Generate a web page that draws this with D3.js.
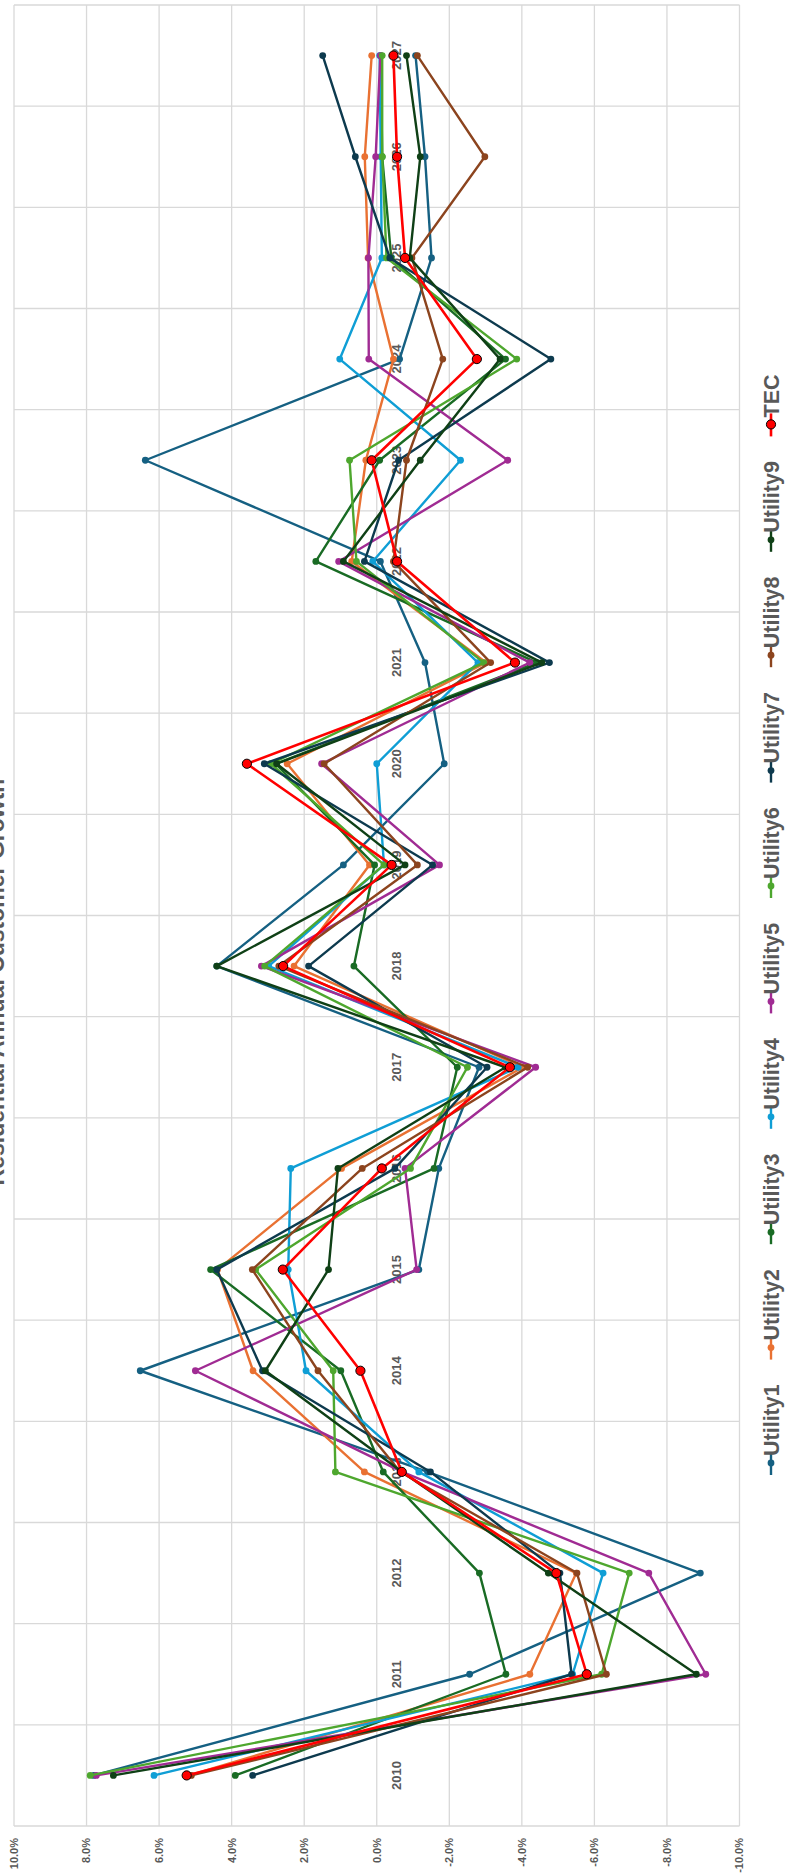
<!DOCTYPE html>
<html>
<head>
<meta charset="utf-8">
<script src="https://cdn.jsdelivr.net/npm/d3@7"></script>
<style>
  html, body { margin: 0; padding: 0; background: #ffffff; }
  svg { display: block; }
  text { font-family: "Liberation Sans", Arial, sans-serif; }
</style>
</head>
<body>
<div id="chart"></div>
<script>
// ---------- DATA ----------
const years = ["2010","2011","2012","2013","2014","2015","2016","2017","2018","2019","2020","2021","2022","2023","2024","2025","2026","2027"];
const seriesNames = ["Utility1","Utility2","Utility3","Utility4","Utility5","Utility6","Utility7","Utility8","Utility9","TEC"];
const seriesColors = ["#156082","#E97132","#196B24","#0F9ED5","#A02B93","#4EA72E","#0D3A4E","#8C441E","#0F4016","#FF0000"];

const utility1 = [7.80,-2.56,-8.92,-1.40,6.52,-1.16,-1.71,-2.82,4.41,0.92,-1.86,-1.33,-0.10,6.38,-0.63,-1.51,-1.33,-1.07];
const utility2 = [5.18,-4.22,-5.50,0.34,3.41,4.39,0.97,-4.03,2.28,0.20,2.47,-3.01,0.69,0.30,-0.46,0.24,0.33,0.14];
const utility3 = [3.90,-3.56,-2.83,-0.18,0.99,4.58,-1.58,-2.22,0.63,0.06,2.79,-4.41,1.68,-0.08,-3.55,-0.40,-0.15,-0.11];
const utility4 = [6.14,-5.40,-6.24,-1.16,1.95,2.44,2.37,-3.90,2.98,-0.20,0.00,-2.79,0.11,-2.31,1.02,-0.14,-0.11,-0.08];
const utility5 = [7.73,-9.07,-7.50,-0.70,5.00,-1.10,-0.78,-4.38,3.18,-1.73,1.52,-4.22,1.05,-3.61,0.22,0.23,0.03,-0.10];
const utility6 = [7.90,-6.20,-6.96,1.14,1.20,3.34,-0.93,-2.50,3.09,-0.20,2.92,-2.95,0.56,0.75,-3.86,-0.27,-0.15,-0.15];
const utility7 = [3.42,-5.37,-5.05,-1.48,3.15,4.41,-0.50,-3.04,1.88,-1.54,3.10,-4.76,0.34,-0.60,-4.80,-0.36,0.59,1.49];
const utility8 = [5.11,-6.33,-5.52,-0.65,1.62,3.43,0.40,-4.16,2.70,-1.12,1.45,-3.14,-0.46,-0.82,-1.82,-0.97,-2.98,-1.12];
const utility9 = [7.26,-8.81,-4.73,-0.70,3.07,1.33,1.07,-3.55,4.41,-0.78,2.76,-4.55,0.92,-1.20,-3.40,-0.91,-1.20,-0.82];
const tec      = [5.24,-5.79,-4.95,-0.69,0.45,2.59,-0.14,-3.67,2.58,-0.41,3.58,-3.81,-0.56,0.14,-2.76,-0.78,-0.56,-0.46];

const valueTicks = [10,8,6,4,2,0,-2,-4,-6,-8,-10];
const title = "Residential Annual Customer Growth";

const seriesValues = [utility1,utility2,utility3,utility4,utility5,utility6,utility7,utility8,utility9,tec];
const series = seriesNames.map((name, i) => ({
  name, color: seriesColors[i], isTec: name === "TEC",
  values: years.map((y, j) => ({ year: y, value: seriesValues[i][j] }))
}));

// ---------- LAYOUT (chart drawn landscape, then rotated) ----------
const pageW = 785, pageH = 1876;
const W = pageH, H = pageW; // landscape chart dimensions
const plot = { left: 50, right: 1871, top: 14, bottom: 739.5 };
const textColor = "#595959", gridColor = "#d9d9d9";

const svg = d3.select("#chart").append("svg")
  .attr("width", pageW).attr("height", pageH);

const g = svg.append("g").attr("transform", `translate(0,${pageH}) rotate(-90)`);

const x = d3.scaleBand().domain(years).range([plot.left, plot.right]).padding(0);
const y = d3.scaleLinear().domain([-10, 10]).range([plot.bottom, plot.top]);
const cx = d => x(d) + x.bandwidth() / 2;

// gridlines: horizontal at value ticks
g.append("g").selectAll("line").data(valueTicks).join("line")
  .attr("x1", plot.left).attr("x2", plot.right)
  .attr("y1", d => y(d)).attr("y2", d => y(d))
  .attr("stroke", gridColor).attr("stroke-width", 1.3);

// gridlines: vertical at category boundaries
const bounds = years.map(d => x(d)).concat([plot.right]);
g.append("g").selectAll("line").data(bounds).join("line")
  .attr("x1", d => d).attr("x2", d => d)
  .attr("y1", plot.top).attr("y2", plot.bottom)
  .attr("stroke", gridColor).attr("stroke-width", 1.3);

// value axis labels
g.append("g").selectAll("text").data(valueTicks).join("text")
  .attr("x", 38).attr("y", d => y(d)).attr("dy", "0.35em")
  .attr("text-anchor", "end")
  .attr("font-size", 11).attr("font-weight", "bold").attr("fill", textColor)
  .text(d => d.toFixed(1) + "%");

// category labels near the zero line
g.append("g").selectAll("text").data(years).join("text")
  .attr("x", d => cx(d)).attr("y", y(0) + 24)
  .attr("text-anchor", "middle")
  .attr("font-size", 13).attr("font-weight", "bold").attr("fill", textColor)
  .text(d => d);

// lines
const line = d3.line().x(d => cx(d.year)).y(d => y(d.value));
const sg = g.append("g").selectAll("g").data(series).join("g");
sg.append("path")
  .attr("d", d => line(d.values))
  .attr("fill", "none")
  .attr("stroke", d => d.color)
  .attr("stroke-width", d => d.isTec ? 2.6 : 2.4)
  .attr("stroke-linejoin", "round");
sg.selectAll("circle").data(d => d.values.map(v => ({...v, s: d}))).join("circle")
  .attr("cx", d => cx(d.year)).attr("cy", d => y(d.value))
  .attr("r", d => d.s.isTec ? 4.6 : 3.4)
  .attr("fill", d => d.s.color)
  .attr("stroke", d => d.s.isTec ? "#000" : "none")
  .attr("stroke-width", 1);

// title
g.append("text")
  .attr("x", 894).attr("y", 3.5)
  .attr("text-anchor", "middle")
  .attr("font-size", 23).attr("font-weight", "bold").attr("fill", textColor)
  .text(title);

// legend
const legendStart = 413, legendStep = 115.4, legendY = 771;
const lg = g.append("g").selectAll("g").data(series).join("g")
  .attr("transform", (d, i) => `translate(${legendStart + i * legendStep},${legendY})`);
lg.append("line").attr("x1", -12).attr("x2", 11).attr("y1", 0).attr("y2", 0)
  .attr("stroke", d => d.color).attr("stroke-width", d => d.isTec ? 2.6 : 2.4);
lg.append("circle").attr("r", d => d.isTec ? 4.6 : 3.4)
  .attr("fill", d => d.color)
  .attr("stroke", d => d.isTec ? "#000" : "none").attr("stroke-width", 1);
lg.append("text").attr("x", 7).attr("y", 7.5)
  .attr("font-size", 21.5).attr("font-weight", "bold").attr("fill", textColor)
  .text(d => d.name);
</script>
</body>
</html>
